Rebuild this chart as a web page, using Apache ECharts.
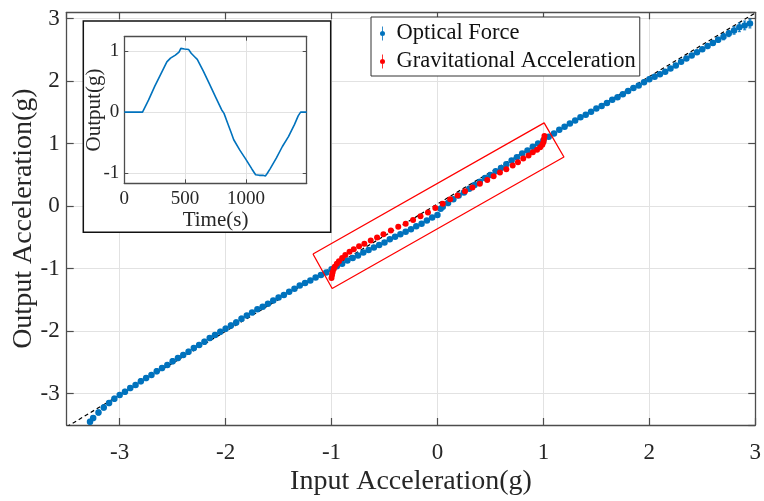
<!DOCTYPE html>
<html>
<head>
<meta charset="utf-8">
<script src="https://cdn.jsdelivr.net/npm/echarts@6/dist/echarts.min.js"></script>
<style>
  html, body { margin: 0; padding: 0; background: #fff; }
  #chart { width: 764px; height: 501px; }
</style>
</head>
<body>
<div id="chart"></div>
<script>
// optical force measurement (input g vs output g)
let blueX = [-3.28, -3.25, -3.20, -3.15, -3.10, -3.05, -3.00, -2.95, -2.90, -2.85, -2.80, -2.75, -2.70, -2.65, -2.60,
  -2.55, -2.50, -2.45, -2.40, -2.35, -2.30, -2.25, -2.20, -2.15, -2.10, -2.05, -2.00, -1.95, -1.90, -1.85,
  -1.80, -1.75, -1.70, -1.65, -1.60, -1.55, -1.50, -1.45, -1.40, -1.35, -1.30, -1.25, -1.20, -1.15, -1.10,
  -1.05, -1.00, -0.95, -0.90, -0.85, -0.80, -0.75, -0.70, -0.65, -0.60, -0.55, -0.50, -0.45, -0.40, -0.35,
  -0.30, -0.25, -0.20, -0.15, -0.10, -0.05, 0.00, 0.03, 0.05, 0.10, 0.15, 0.20, 0.25, 0.30, 0.35,
  0.40, 0.45, 0.50, 0.55, 0.60, 0.65, 0.70, 0.75, 0.80, 0.85, 0.90, 0.95, 1.00, 1.05, 1.10,
  1.15, 1.20, 1.25, 1.30, 1.35, 1.40, 1.45, 1.50, 1.55, 1.60, 1.65, 1.70, 1.75, 1.80, 1.85,
  1.90, 1.95, 2.00, 2.05, 2.10, 2.15, 2.20, 2.25, 2.30, 2.35, 2.40, 2.45, 2.50, 2.55, 2.60,
  2.65, 2.70, 2.75, 2.80, 2.85, 2.90, 2.95];
let blueY = [-3.45, -3.39, -3.30, -3.22, -3.15, -3.08, -3.02, -2.97, -2.91, -2.86, -2.80, -2.75, -2.70, -2.64, -2.59,
  -2.54, -2.48, -2.43, -2.38, -2.33, -2.27, -2.22, -2.17, -2.11, -2.06, -2.01, -1.96, -1.91, -1.86, -1.80,
  -1.75, -1.70, -1.65, -1.61, -1.56, -1.51, -1.46, -1.42, -1.37, -1.32, -1.27, -1.23, -1.19, -1.14, -1.10,
  -1.06, -1.01, -0.96, -0.92, -0.87, -0.83, -0.79, -0.74, -0.70, -0.66, -0.62, -0.58, -0.53, -0.49, -0.45,
  -0.41, -0.37, -0.32, -0.28, -0.23, -0.18, -0.14, -0.04, -0.01, 0.05, 0.11, 0.17, 0.22, 0.28, 0.34,
  0.39, 0.45, 0.50, 0.56, 0.61, 0.67, 0.73, 0.78, 0.84, 0.89, 0.95, 1.00, 1.05, 1.11, 1.16,
  1.22, 1.27, 1.32, 1.37, 1.42, 1.46, 1.51, 1.56, 1.60, 1.65, 1.70, 1.74, 1.79, 1.84, 1.89,
  1.93, 1.98, 2.03, 2.07, 2.11, 2.15, 2.20, 2.25, 2.31, 2.36, 2.41, 2.46, 2.51, 2.56, 2.61,
  2.66, 2.71, 2.76, 2.81, 2.86, 2.89, 2.92];
let blueErr = [0.04, 0.04, 0.04, 0.04, 0.04, 0.04, 0.04, 0.04, 0.04, 0.04, 0.04, 0.04, 0.04, 0.04, 0.04,
  0.04, 0.04, 0.04, 0.04, 0.04, 0.04, 0.04, 0.04, 0.04, 0.04, 0.04, 0.04, 0.04, 0.04, 0.04,
  0.03, 0.03, 0.03, 0.03, 0.03, 0.03, 0.03, 0.03, 0.03, 0.03, 0.03, 0.03, 0.03, 0.03, 0.03,
  0.02, 0.02, 0.02, 0.02, 0.02, 0.02, 0.02, 0.02, 0.02, 0.02, 0.02, 0.02, 0.02, 0.02, 0.02,
  0.02, 0.02, 0.02, 0.02, 0.02, 0.02, 0.02, 0.02, 0.02, 0.02, 0.02, 0.02, 0.02, 0.02, 0.02,
  0.02, 0.02, 0.02, 0.02, 0.02, 0.02, 0.02, 0.02, 0.02, 0.02, 0.02, 0.02, 0.02, 0.02, 0.03,
  0.03, 0.03, 0.03, 0.03, 0.03, 0.03, 0.03, 0.03, 0.03, 0.03, 0.03, 0.03, 0.03, 0.03, 0.03,
  0.03, 0.03, 0.03, 0.03, 0.03, 0.03, 0.03, 0.03, 0.03, 0.03, 0.03, 0.03, 0.03, 0.04, 0.04,
  0.04, 0.05, 0.05, 0.06, 0.07, 0.07, 0.07];

// gravitational reference points
let redX = [-1.00, -0.995, -0.99, -0.98, -0.97, -0.95, -0.93, -0.90, -0.87, -0.83, -0.79, -0.74, -0.69, -0.63,
  -0.57, -0.51, -0.44, -0.37, -0.30, -0.23, -0.16, -0.09, -0.02,
  0.05, 0.12, 0.19, 0.26, 0.33, 0.40, 0.47, 0.53, 0.59, 0.65, 0.71, 0.76, 0.81, 0.86, 0.90, 0.94,
  0.97, 0.99, 1.00, 1.005, 1.01];
let redY = [-1.15, -1.10, -1.06, -1.01, -0.97, -0.92, -0.88, -0.83, -0.78, -0.73, -0.69, -0.64, -0.60, -0.55,
  -0.50, -0.45, -0.39, -0.33, -0.28, -0.22, -0.16, -0.10, -0.03,
  0.04, 0.11, 0.17, 0.24, 0.30, 0.36, 0.42, 0.48, 0.54, 0.59, 0.65, 0.70, 0.76, 0.81, 0.86, 0.90,
  0.94, 0.98, 1.02, 1.07, 1.12];
let redErr = 0.02;

// dashed fit line and highlight box (data coords)
let fitX = [-3.5, 3.0];
let fitY = [-3.53, 3.09];
let boxX = [-1.175, -0.994, 1.194, 1.007, -1.175];
let boxY = [-0.766, -1.317, 0.786, 1.331, -0.766];

// inset: output vs time
let insetT = [0, 100, 150, 160, 200, 250, 300, 350, 380, 420, 450, 465, 480, 495, 510, 530, 550, 580, 600,
  650, 700, 750, 800, 820, 850, 880, 900, 950, 1000, 1050, 1080, 1095, 1110, 1125, 1140, 1160, 1175,
  1200, 1250, 1300, 1350, 1400, 1430, 1450, 1500];
let insetV = [0, 0, 0, 0.01, 0.2, 0.42, 0.62, 0.82, 0.88, 0.93, 0.98, 1.04, 1.05, 1.03, 1.05, 1.02, 0.96, 0.9, 0.86,
  0.67, 0.46, 0.25, 0.04, -0.02, -0.18, -0.34, -0.45, -0.62, -0.77, -0.93, -1.02, -1.05, -1.03, -1.05, -1.03, -1.04, -1.0,
  -0.92, -0.75, -0.56, -0.4, -0.2, -0.06, 0, 0];

let font = 'Liberation Serif';
let axisCol = '#4d4d4d';
let textCol = '#262626';
let gridCol = '#e2e2e2';
let blue = '#0072BD';
let red = '#FF0000';

let chart = echarts.init(document.getElementById('chart'));

function errBar(color) {
  return function (params, api) {
    let x = api.value(0), y = api.value(1), e = api.value(2);
    let a = api.coord([x, y + e]);
    let b = api.coord([x, y - e]);
    let st = { stroke: color, lineWidth: 1 };
    return {
      type: 'group',
      children: [
        { type: 'line', shape: { x1: a[0], y1: a[1], x2: b[0], y2: b[1] }, style: st },
        { type: 'line', shape: { x1: a[0] - 1.5, y1: a[1], x2: a[0] + 1.5, y2: a[1] }, style: st },
        { type: 'line', shape: { x1: b[0] - 1.5, y1: b[1], x2: b[0] + 1.5, y2: b[1] }, style: st }
      ]
    };
  };
}

function boxAxis(extra) {
  return Object.assign({
    type: 'value',
    nameMoveOverlap: false,
    axisLine: { show: true, onZero: false, lineStyle: { color: axisCol, width: 1.3 } },
    axisTick: { show: true, inside: true, length: 7, lineStyle: { color: axisCol, width: 1.2 } },
    axisLabel: { show: false },
    splitLine: { show: false }
  }, extra);
}

let mainLabel = { fontFamily: font, fontSize: 23, color: textCol };
let insetLabel = { fontFamily: font, fontSize: 19, color: textCol };
let insetTick = { show: true, inside: true, length: 4, lineStyle: { color: axisCol, width: 1 } };

let options = {
  animation: false,
  backgroundColor: '#fff',
  textStyle: { fontFamily: font },
  grid: [
    { left: 66.7, top: 12.3, right: 4.7, bottom: 72 },
    { left: 124.3, top: 36.7, width: 182.4, height: 146.6, z: 51 }
  ],
  graphic: [
    {
      type: 'rect', z: 50,
      shape: { x: 83.3, y: 21, width: 247.4, height: 211.3 },
      style: { fill: '#fff', stroke: '#111', lineWidth: 1.5 }
    }
  ],
  legend: {
    orient: 'vertical',
    left: 371, top: 17,
    padding: [5, 4, 3, 9],
    itemGap: 5,
    itemWidth: 6, itemHeight: 14,
    backgroundColor: '#fff',
    borderColor: '#333', borderWidth: 1,
    icon: 'path://M2.6,0H3.4V14H2.6Z M0.5,7A2.5,2.5,0,1,1,5.5,7A2.5,2.5,0,1,1,0.5,7Z',
    textStyle: { fontFamily: font, fontSize: 22.5, lineHeight: 22, color: '#111', padding: [0, 0, 0, 6] },
    data: ['Optical Force', 'Gravitational Acceleration']
  },
  xAxis: [
    boxAxis({
      gridIndex: 0, position: 'bottom', min: -3.5, max: 3, splitNumber: 7,
      axisLabel: Object.assign({ show: true, margin: 16, showMinLabel: false, showMaxLabel: true }, mainLabel),
      splitLine: { show: true, lineStyle: { color: gridCol, width: 1 } },
      name: 'Input Acceleration(g)', nameLocation: 'middle', nameGap: 43,
      nameTextStyle: { fontFamily: font, fontSize: 28, color: textCol }
    }),
    boxAxis({ gridIndex: 0, position: 'top', min: -3.5, max: 3, splitNumber: 7 }),
    boxAxis({
      gridIndex: 1, position: 'bottom', min: 0, max: 1500, splitNumber: 3, z: 51,
      axisTick: insetTick,
      axisLabel: Object.assign({ show: true, margin: 6, showMaxLabel: false, formatter: v => String(v) }, insetLabel),
      splitLine: { show: true, lineStyle: { color: gridCol, width: 1 } },
      name: 'Time(s)', nameLocation: 'middle', nameGap: 27,
      nameTextStyle: { fontFamily: font, fontSize: 21, color: textCol }
    }),
    boxAxis({ gridIndex: 1, position: 'top', min: 0, max: 1500, splitNumber: 3, z: 51, axisTick: insetTick })
  ],
  yAxis: [
    boxAxis({
      gridIndex: 0, position: 'left', min: -3.5, max: 3.1, splitNumber: 7,
      axisLabel: Object.assign({ show: true, margin: 7, showMinLabel: false, showMaxLabel: false }, mainLabel),
      splitLine: { show: true, lineStyle: { color: gridCol, width: 1 } },
      name: 'Output Acceleration(g)', nameLocation: 'middle', nameGap: 29,
      nameTextStyle: { fontFamily: font, fontSize: 28, color: textCol }
    }),
    boxAxis({ gridIndex: 0, position: 'right', min: -3.5, max: 3.1, splitNumber: 7 }),
    boxAxis({
      gridIndex: 1, position: 'left', min: -1.16, max: 1.23, splitNumber: 3, z: 51,
      axisTick: insetTick,
      axisLabel: Object.assign({ show: true, margin: 5, showMinLabel: false, showMaxLabel: false }, insetLabel),
      splitLine: { show: true, lineStyle: { color: gridCol, width: 1 } },
      name: 'Output(g)', nameLocation: 'middle', nameGap: 19,
      nameTextStyle: { fontFamily: font, fontSize: 21, color: textCol }
    }),
    boxAxis({ gridIndex: 1, position: 'right', min: -1.16, max: 1.23, splitNumber: 3, z: 51, axisTick: insetTick })
  ],
  series: [
    {
      name: 'fit', type: 'line', xAxisIndex: 0, yAxisIndex: 0,
      data: fitX.map((x, i) => [x, fitY[i]]),
      showSymbol: false, silent: true, z: 1,
      lineStyle: { color: '#000', width: 1.2, type: [4, 3] }
    },
    {
      name: 'blueErr', type: 'custom', xAxisIndex: 0, yAxisIndex: 0, z: 2,
      renderItem: errBar(blue),
      data: blueX.map((x, i) => [x, blueY[i], blueErr[i]])
    },
    {
      name: 'Optical Force', type: 'scatter', xAxisIndex: 0, yAxisIndex: 0, z: 3,
      symbolSize: 6.5,
      itemStyle: { color: blue, opacity: 1 },
      data: blueX.map((x, i) => [x, blueY[i]])
    },
    {
      name: 'redErr', type: 'custom', xAxisIndex: 0, yAxisIndex: 0, z: 4,
      renderItem: errBar(red),
      data: redX.map((x, i) => [x, redY[i], redErr])
    },
    {
      name: 'Gravitational Acceleration', type: 'scatter', xAxisIndex: 0, yAxisIndex: 0, z: 5,
      symbolSize: 6,
      itemStyle: { color: red, opacity: 1 },
      data: redX.map((x, i) => [x, redY[i]])
    },
    {
      name: 'box', type: 'line', xAxisIndex: 0, yAxisIndex: 0, z: 6,
      data: boxX.map((x, i) => [x, boxY[i]]),
      showSymbol: false, silent: true,
      lineStyle: { color: red, width: 1.3 }
    },
    {
      name: 'inset', type: 'line', xAxisIndex: 2, yAxisIndex: 2, z: 52,
      data: insetT.map((t, i) => [t, insetV[i]]),
      showSymbol: false,
      lineStyle: { color: blue, width: 1.6 }
    }
  ]
};

chart.setOption(options);
</script>
</body>
</html>
